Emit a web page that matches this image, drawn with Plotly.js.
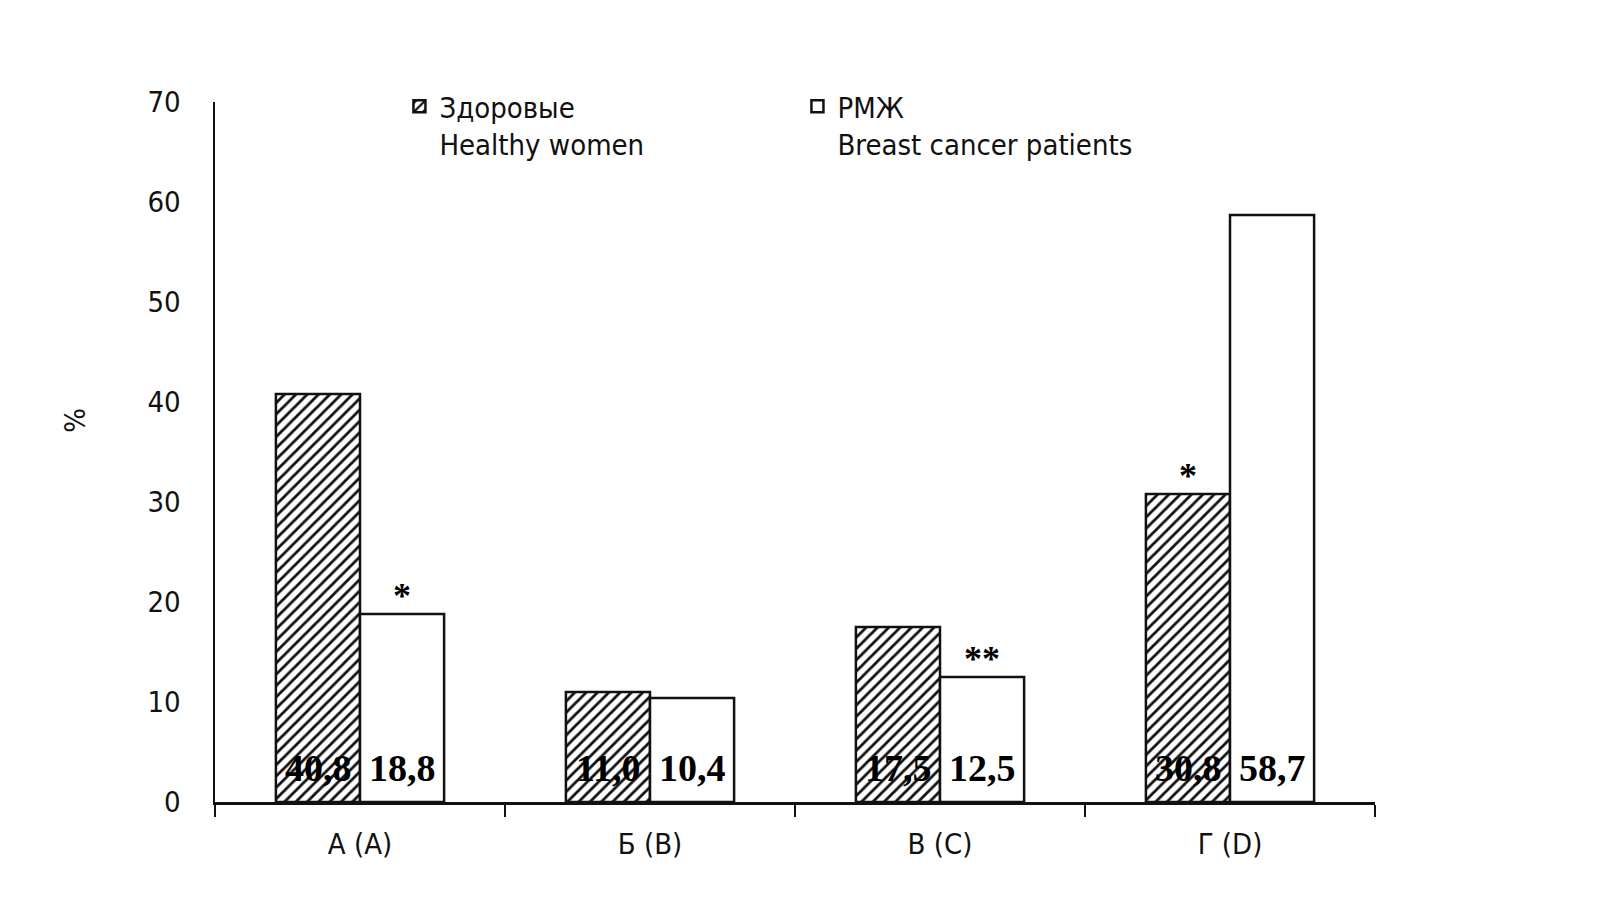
<!DOCTYPE html>
<html>
<head>
<meta charset="utf-8">
<script src="https://cdn.plot.ly/plotly-3.0.1.min.js"></script>
<style>html,body{margin:0;padding:0;background:#fff;}#chart{width:1608px;height:903px;}</style>
</head>
<body>
<div id="chart"></div>
<script>
const categories = ['А (A)', 'Б (B)', 'В (C)', 'Г (D)'];
const healthyValues = [40.8, 11.0, 17.5, 30.8];
const patientValues = [18.8, 10.4, 12.5, 58.7];
const healthyStars = ['', '', '', '*'];
const patientStars = ['*', '', '**', ''];
const seriesNames = ['Здоровые<br>Healthy women', 'РМЖ<br>Breast cancer patients'];
const yTicks = [0, 10, 20, 30, 40, 50, 60, 70];
const yTitle = '%';

const narrow = '"Liberation Sans Narrow", "Arial Narrow", "DejaVu Sans Condensed", sans-serif';
const serifBold = '"Liberation Serif", "Times New Roman", serif';

const fmt = v => v.toFixed(1).replace('.', ',');

const traces = [
  {
    type: 'bar', name: seriesNames[0], x: categories, y: healthyValues,
    marker: {color: '#fff', line: {color: '#111', width: 2.5},
      pattern: {shape: '/', fgcolor: '#111', bgcolor: '#fff', size: 8, solidity: 0.35}},
    hoverinfo: 'none'
  },
  {
    type: 'bar', name: seriesNames[1], x: categories, y: patientValues,
    marker: {color: '#fff', line: {color: '#111', width: 2.5}},
    hoverinfo: 'none'
  }
];

const annotations = [];
const starFont = {family: serifBold, size: 36, color: '#000', weight: 'bold'};
const valFont = {family: serifBold, size: 38, color: '#000', weight: 'bold'};
categories.forEach((c, i) => {
  annotations.push({x: c, y: 0, xref: 'x', yref: 'y', text: fmt(healthyValues[i]),
    showarrow: false, yanchor: 'middle', xshift: -42, yshift: 34, font: valFont});
  annotations.push({x: c, y: 0, xref: 'x', yref: 'y', text: fmt(patientValues[i]),
    showarrow: false, yanchor: 'middle', xshift: 42, yshift: 34, font: valFont});
  if (healthyStars[i]) annotations.push({x: c, y: healthyValues[i], xref: 'x', yref: 'y', text: healthyStars[i],
    showarrow: false, yanchor: 'bottom', xshift: -42, yshift: -4, font: starFont});
  if (patientStars[i]) annotations.push({x: c, y: patientValues[i], xref: 'x', yref: 'y', text: patientStars[i],
    showarrow: false, yanchor: 'bottom', xshift: 42, yshift: -4, font: starFont});
});
annotations.push({xref: 'paper', yref: 'paper', x: -0.1207, y: 0.546, text: yTitle, textangle: -90,
  showarrow: false, xanchor: 'center', yanchor: 'middle', font: {family: narrow, size: 29, color: '#111'}});

const layout = {
  width: 1608, height: 903,
  margin: {l: 215, r: 233, t: 102, b: 101},
  paper_bgcolor: '#fff', plot_bgcolor: '#fff',
  barmode: 'group', bargap: 0.42, bargroupgap: 0,
  showlegend: true,
  legend: {orientation: 'h', x: 0.159, y: 1.03, xanchor: 'left', yanchor: 'top',
    entrywidth: 353, entrywidthmode: 'pixels', valign: 'top', traceorder: 'normal',
    font: {family: narrow, size: 29, color: '#111'}, bgcolor: 'rgba(0,0,0,0)'},
  xaxis: {type: 'category', tickson: 'boundaries', ticks: 'outside', ticklen: 12, tickwidth: 2, tickcolor: '#111',
    showline: true, linecolor: '#111', linewidth: 2.5, showgrid: false, zeroline: false,
    tickfont: {family: narrow, size: 29, color: '#111'}, ticklabelstandoff: 15},
  yaxis: {range: [0, 70], tickvals: yTicks, ticktext: yTicks.map(String), ticks: '',
    showline: true, linecolor: '#111', linewidth: 2.5, showgrid: false, zeroline: false,
    tickfont: {family: narrow, size: 29, color: '#111'}, ticklabelstandoff: 26},
  annotations: annotations
};

Plotly.newPlot('chart', traces, layout, {displayModeBar: false, staticPlot: true});
</script>
</body>
</html>
